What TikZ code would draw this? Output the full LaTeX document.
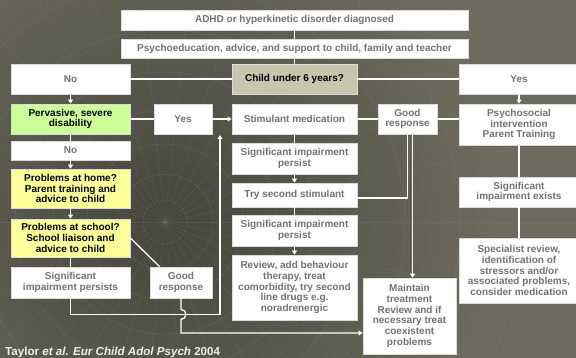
\documentclass[tikz,border=0pt]{standalone}
\usepackage{fontspec}
\setmainfont{Liberation Sans}
\usetikzlibrary{arrows.meta}
\definecolor{bgcol}{HTML}{6C6B5D}
\definecolor{bgdark}{HTML}{45453C}
\definecolor{gridcol}{HTML}{8A897C}
\definecolor{boxline}{HTML}{DADADA}
\definecolor{txtgrey}{HTML}{727272}
\definecolor{beige}{HTML}{C8C6AC}
\definecolor{lgreen}{HTML}{CCFF99}
\definecolor{lyellow}{HTML}{FFFF99}
\definecolor{footwhite}{HTML}{EEEEEE}
\begin{document}
\begin{tikzpicture}[x=1pt,y=-1pt,
  box/.style={draw=boxline, line width=0.8pt, fill=white, text=txtgrey, align=center, inner sep=0pt,
    font=\bfseries\fontsize{10}{10.8}\selectfont},
  wire/.style={white, line width=1.3pt},
  >={Triangle[width=5pt,length=4pt]}]
  \fill[bgcol] (0,0) rectangle (576,358);
  \useasboundingbox (0,0) rectangle (576,358);
  \begin{scope}
    \clip (0,0) rectangle (576,358);
    \shade[inner color=bgdark, outer color=bgcol] (165,225) circle (330);
    \foreach \r in {22,48,78,112,150,192,240,295,355}
      \draw[gridcol, opacity=0.28, line width=0.5pt] (165,222) circle (\r);
    \foreach \a in {0,12,...,348}
      \draw[gridcol, opacity=0.22, line width=0.5pt] (165,222) -- ++(\a:450);
  \end{scope}
  \node[box, minimum width=347pt, minimum height=20pt] (diag) at (294.5,20) {ADHD or hyperkinetic disorder diagnosed};
  \node[box, minimum width=347pt, minimum height=19pt] (psyed) at (294.5,48.5) {Psychoeducation, advice, and support to child, family and teacher};
  \node[box, minimum width=119pt, minimum height=30pt] (no1) at (70.5,79) {No};
  \node[box, fill=beige, text=black, minimum width=125pt, minimum height=30pt] (child) at (294.5,79) {Child under 6 years?};
  \node[box, minimum width=120pt, minimum height=30pt] (yes1) at (519,79) {Yes};
  \node[box, fill=lgreen, text=black, minimum width=119pt, minimum height=30pt] (perv) at (70.5,119) {Pervasive, severe\\disability};
  \node[box, minimum width=58pt, minimum height=30pt] (yes2) at (183,119) {Yes};
  \node[box, minimum width=125pt, minimum height=30pt] (stim) at (294.5,119) {Stimulant medication};
  \node[box, minimum width=59pt, minimum height=30pt] (good1) at (407.5,119) {Good\\response};
  \node[box, minimum width=120pt, minimum height=41pt] (psyint) at (519,124.5) {Psychosocial\\intervention\\Parent Training};
  \node[box, minimum width=119pt, minimum height=19pt] (no2) at (70.5,150.5) {No};
  \node[box, minimum width=125pt, minimum height=31pt] (sig1) at (294.5,158.5) {Significant impairment\\persist};
  \node[box, fill=lyellow, text=black, minimum width=119pt, minimum height=39pt] (home) at (70.5,188.5) {Problems at home?\\Parent training and\\advice to child};
  \node[box, minimum width=125pt, minimum height=24pt] (second) at (294.5,195) {Try second stimulant};
  \node[box, minimum width=120pt, minimum height=30pt] (exists) at (519,192) {Significant\\impairment exists};
  \node[box, fill=lyellow, text=black, minimum width=119pt, minimum height=38pt] (school) at (70.5,238) {Problems at school?\\School liaison and\\advice to child};
  \node[box, minimum width=125pt, minimum height=31pt] (sig2) at (294.5,230.5) {Significant impairment\\persist};
  \node[box, minimum width=119pt, minimum height=31pt] (persists) at (70.5,282.5) {Significant\\impairment persists};
  \node[box, minimum width=62pt, minimum height=31pt] (good2) at (181,282.5) {Good\\response};
  \node[box, minimum width=125pt, minimum height=65pt] (review) at (294.5,287.5) {Review, add behaviour\\therapy, treat\\comorbidity, try second\\line drugs e.g.\\noradrenergic};
  \node[box, minimum width=120pt, minimum height=65pt] (special) at (519,270.5) {Specialist review,\\identification of\\stressors and/or\\associated problems,\\consider medication};
  \node[box, minimum width=93pt, minimum height=76pt] (maintain) at (409.5,316) {Maintain\\treatment\\Review and if\\necessary treat\\coexistent\\problems};
  \node[anchor=base west, inner sep=0pt, text=footwhite, font=\bfseries\fontsize{11.6}{13}\selectfont] (ref) at (5,355) {Taylor \textit{et al. Eur Child Adol Psych} 2004};
  \coordinate (back) at (220,135);
  \draw[wire] (diag) -- (psyed);
  \draw[wire] (psyed) -- (child);
  \draw[wire] (child) -- (no1);
  \draw[wire] (child) -- (yes1);
  \draw[wire,->] (no1) -- (perv);
  \draw[wire] (perv) -- (yes2);
  \draw[wire,->] (yes2) -- (stim);
  \draw[wire] (perv) -- (no2);
  \draw[wire,->] (no2) -- (home);
  \draw[wire,->] (home) -- (school);
  \draw[wire] (school) -- (persists);
  \draw[wire] (school.east) -- ([xshift=10pt]good2.north west);
  \draw[wire,->] (persists.south) -- ++(0,16) -| (back);
  \draw[wire,->] (good2.south) -- ++(0,11) arc[start angle=90, end angle=-90, radius=5pt] |- ([yshift=-17pt]maintain.west);
  \draw[wire] (stim) -- (sig1);
  \draw[wire,->] (sig1) -- (second);
  \draw[wire] (second) -- (sig2);
  \draw[wire,->] (sig2) -- (review);
  \draw[wire] (stim) -- (good1);
  \draw[wire] (good1) -- (good1 -| psyint.west);
  \draw[wire] ([yshift=-3pt]second.east) -| (good1.south);
  \draw[wire,->] ([xshift=5pt]good1.south) -- ([xshift=5pt]good1.south |- maintain.north);
  \draw[wire,->] (yes1) -- (psyint);
  \draw[wire] (psyint) -- (exists);
  \draw[wire] (exists) -- (special);
\end{tikzpicture}
\end{document}
